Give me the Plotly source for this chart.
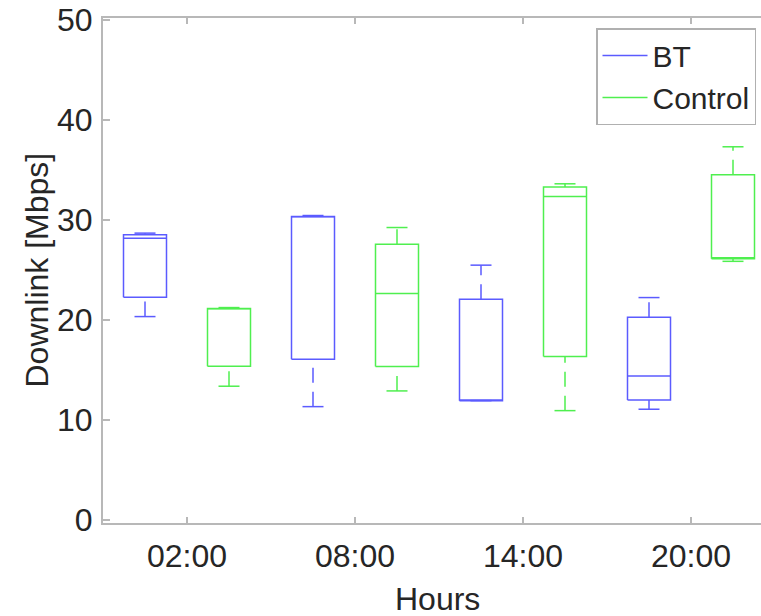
import plotly.graph_objects as go

hours = ["02:00", "08:00", "14:00", "20:00"]

# BT series (box statistics, Mbps)
bt_lower = [20.33, 11.33, 11.93, 11.07]
bt_q1 = [22.27, 16.07, 11.93, 12.00]
bt_median = [28.17, 30.30, 12.00, 14.40]
bt_q3 = [28.50, 30.32, 22.07, 20.27]
bt_upper = [28.67, 30.43, 25.47, 22.23]

# Control series
ct_lower = [13.37, 12.90, 10.93, 25.85]
ct_q1 = [15.37, 15.33, 16.33, 26.10]
ct_median = [21.10, 22.63, 32.33, 26.20]
ct_q3 = [21.13, 27.57, 33.27, 34.50]
ct_upper = [21.23, 29.23, 33.60, 37.30]

series = [
    ("BT", "#5b5bff", 0, bt_lower, bt_q1, bt_median, bt_q3, bt_upper),
    ("Control", "#4fef4f", 1, ct_lower, ct_q1, ct_median, ct_q3, ct_upper),
]

HW = 0.256   # half box width (position units)
CW = 0.125   # half cap width
LW = 1.5
FONT = "Liberation Sans, Arial, sans-serif"
AXC = "#b8b8b8"
TXT = "#262626"

fig = go.Figure()
for name, color, off, lo, q1, med, q3, up in series:
    bx, by, cx, cy, wx, wy = [], [], [], [], [], []
    for i in range(len(hours)):
        p = 2 * i + 1 + off
        # box outline
        bx += [p - HW, p + HW, p + HW, p - HW, p - HW, None]
        by += [q1[i], q1[i], q3[i], q3[i], q1[i], None]
        # median
        bx += [p - HW, p + HW, None]
        by += [med[i], med[i], None]
        # caps
        cx += [p - CW, p + CW, None, p - CW, p + CW, None]
        cy += [lo[i], lo[i], None, up[i], up[i], None]
        # whiskers: lower drawn from cap to box, upper from box to cap
        wx += [p, p, None, p, p, None]
        wy += [lo[i], q1[i], None, q3[i], up[i], None]
    fig.add_trace(go.Scatter(x=bx, y=by, mode="lines", name=name,
                             line=dict(color=color, width=LW), hoverinfo="skip"))
    fig.add_trace(go.Scatter(x=cx, y=cy, mode="lines", showlegend=False,
                             line=dict(color=color, width=LW), hoverinfo="skip"))
    fig.add_trace(go.Scatter(x=wx, y=wy, mode="lines", showlegend=False,
                             line=dict(color=color, width=LW, dash="15px,9px"),
                             hoverinfo="skip"))

fig.update_layout(
    width=761, height=616,
    margin=dict(l=103, r=0, t=18, b=93),
    plot_bgcolor="white", paper_bgcolor="white",
    font=dict(family=FONT, size=32, color=TXT),
    xaxis=dict(range=[0.5, 0.5 + 658 / 84], tickvals=[1.5, 3.5, 5.5, 7.5],
               ticktext=hours, showline=True, linecolor=AXC, linewidth=2,
               mirror="ticks", ticks="inside", ticklen=6, tickwidth=1.5,
               tickcolor=AXC, showgrid=False, zeroline=False,
               ticklabelstandoff=4,
               tickfont=dict(family=FONT, size=32, color=TXT)),
    yaxis=dict(range=[-0.3, 50.17], tickvals=[0, 10, 20, 30, 40, 50],
               showline=True, linecolor=AXC, linewidth=2, mirror=False,
               ticks="inside", ticklen=7, tickwidth=1.5, tickcolor=AXC,
               showgrid=False, zeroline=False, ticklabelstandoff=2,
               tickfont=dict(family=FONT, size=32, color=TXT)),
    legend=dict(x=(756 - 103) / 658, xanchor="right", y=(523 - 28) / 505,
                yanchor="top", bgcolor="white", bordercolor="#b0b0b0",
                borderwidth=1.5, font=dict(family=FONT, size=30, color=TXT),
                itemwidth=45),
    annotations=[
        dict(text="Hours", xref="paper", yref="paper",
             x=(437 - 103) / 658, y=(523 - 599) / 505, xanchor="center",
             yanchor="middle", showarrow=False,
             font=dict(family=FONT, size=32, color=TXT)),
        dict(text="Downlink [Mbps]", xref="paper", yref="paper",
             x=(36 - 103) / 658, y=0.5, xanchor="center", yanchor="middle",
             textangle=-90, showarrow=False,
             font=dict(family=FONT, size=32, color=TXT)),
    ],
)

fig.write_html("out.html")
